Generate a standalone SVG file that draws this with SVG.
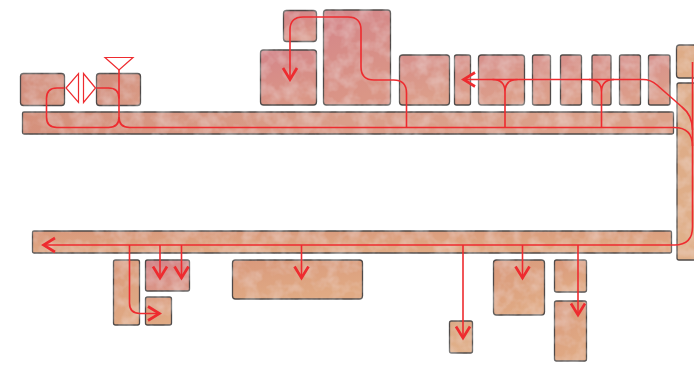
<svg xmlns="http://www.w3.org/2000/svg" width="694" height="365" viewBox="0 0 694 365">
<style>
.n{stroke:#4f4a48;stroke-width:1.3}
.pink{fill:url(#gPink)}
.rose{fill:url(#gRose)}
.salmon{fill:url(#gSalmon)}
.bar{fill:url(#gBar)}
.tan{fill:url(#gTan)}
.orange{fill:url(#gOrange)}
.c{fill:none;stroke:#ee2b2f;stroke-width:1.6}
.a{marker-end:url(#arr)}
.tri{fill:#fff;stroke:#ee2b2f;stroke-width:1.2}
</style>
<defs>
<linearGradient id="gPink" x1="0" y1="0" x2="0.3" y2="1"><stop offset="0" stop-color="#d4858a"/><stop offset="1" stop-color="#da9686"/></linearGradient>
<linearGradient id="gRose" x1="0" y1="0" x2="0.3" y2="1"><stop offset="0" stop-color="#d78f8b"/><stop offset="1" stop-color="#dc9f8a"/></linearGradient>
<linearGradient id="gSalmon" x1="0" y1="0" x2="1" y2="1"><stop offset="0" stop-color="#d28c7c"/><stop offset="1" stop-color="#d99c86"/></linearGradient>
<linearGradient id="gBar" x1="0" y1="0" x2="1" y2="0"><stop offset="0" stop-color="#d5917c"/><stop offset="0.5" stop-color="#da9e8a"/><stop offset="1" stop-color="#dca189"/></linearGradient>
<linearGradient id="gTan" x1="0" y1="0" x2="0" y2="1"><stop offset="0" stop-color="#ddaa86"/><stop offset="1" stop-color="#e0b08a"/></linearGradient>
<linearGradient id="gOrange" x1="0" y1="0" x2="0.4" y2="1"><stop offset="0" stop-color="#d9997c"/><stop offset="1" stop-color="#e0aa84"/></linearGradient>
<filter id="tex" filterUnits="userSpaceOnUse" x="0" y="0" width="694" height="365">
<feTurbulence type="fractalNoise" baseFrequency="0.07" numOctaves="3" seed="7" result="t"/>
<feColorMatrix in="t" type="matrix" values="0 0 0 0 1  0 0 0 0 1  0 0 0 0 1  0.5 0 0 0 -0.2" result="w"/>
<feComposite in="w" in2="SourceGraphic" operator="atop"/>
</filter>
<marker id="arr" markerUnits="userSpaceOnUse" markerWidth="16" markerHeight="18" viewBox="0 0 16 18" refX="14" refY="9" orient="auto">
<path d="M2,2 L13.5,9 L2,16" fill="none" stroke="#ee2b2f" stroke-width="2.7"/>
</marker>
</defs>

<g id="nodes" filter="url(#tex)">
<g id="box-a"><rect class="n salmon" x="20.5" y="73.5" width="44" height="32" rx="3"/></g>
<g id="box-b"><rect class="n salmon" x="96.5" y="73.5" width="44" height="32" rx="3"/></g>
<g id="top-bar"><rect class="n bar" x="22.5" y="112" width="651" height="22" rx="1.5"/></g>
<g id="box-t1"><rect class="n pink" x="283.5" y="10.5" width="33" height="31" rx="3"/></g>
<g id="box-t2"><rect class="n pink" x="260.5" y="50" width="56" height="55" rx="3"/></g>
<g id="box-t3"><rect class="n pink" x="323.5" y="10" width="67" height="95" rx="3"/></g>
<g id="box-t4"><rect class="n rose" x="399.5" y="55" width="50" height="50" rx="3"/></g>
<g id="box-t5"><rect class="n rose" x="454.5" y="55" width="16" height="50" rx="2"/></g>
<g id="box-t6"><rect class="n rose" x="478.5" y="55" width="46" height="50" rx="3"/></g>
<g id="box-t7"><rect class="n rose" x="532.5" y="55" width="18" height="50" rx="2"/></g>
<g id="box-t8"><rect class="n rose" x="560.5" y="55" width="21" height="50" rx="2"/></g>
<g id="box-t9"><rect class="n rose" x="592" y="55" width="19" height="50" rx="2"/></g>
<g id="box-t10"><rect class="n rose" x="619.5" y="55" width="21" height="50" rx="2"/></g>
<g id="box-t11"><rect class="n rose" x="648.5" y="55" width="21.5" height="50" rx="2"/></g>
<g id="box-r1"><rect class="n tan" x="676.5" y="45" width="30" height="33" rx="3"/></g>
<g id="box-r2"><rect class="n tan" x="677" y="83" width="30" height="177" rx="2"/></g>
<g id="bottom-bar"><rect class="n orange" x="32.5" y="231" width="639" height="22" rx="1.5"/></g>
<g id="box-b1"><rect class="n orange" x="113.5" y="260" width="26" height="65" rx="2"/></g>
<g id="box-b2"><rect class="n pink" x="145.5" y="260" width="44" height="31" rx="2"/></g>
<g id="box-b3"><rect class="n orange" x="145.5" y="297" width="26" height="28" rx="2"/></g>
<g id="box-b4"><rect class="n orange" x="232.5" y="260" width="130" height="39" rx="3"/></g>
<g id="box-b5"><rect class="n tan" x="449.5" y="321" width="23" height="32" rx="2"/></g>
<g id="box-b6"><rect class="n orange" x="493.5" y="260" width="51" height="55" rx="3"/></g>
<g id="box-b7"><rect class="n orange" x="554.5" y="260" width="32" height="32" rx="2"/></g>
<g id="box-b8"><rect class="n orange" x="554.5" y="301" width="32" height="60" rx="2"/></g>
</g>
<g id="markers-tri">
<g id="tri-left"><polygon class="tri" points="66,88 78.5,73.5 78.5,102.5"/></g>
<g id="tri-right"><polygon class="tri" points="95.5,88 83.5,73.5 83.5,102.5"/></g>
<g id="tri-down"><polygon class="tri" points="105,57.5 133,57.5 119,70"/></g>
</g>

<g id="connectors">
<path class="c" d="M119,70 V117 Q119,127.5 129.5,127.5 H674 Q692.5,127.5 692.5,146"/>
<path class="c" d="M119,117 Q119,127.5 108.5,127.5 H57 Q46.5,127.5 46.5,117 V98.5 Q46.5,88 57,88 H64.5"/>
<path class="c" d="M96.5,88 H108.5 Q119,88 119,98.5"/>
<path class="c a" d="M692.5,62 V227 Q692.5,245 674.5,245 H43"/>
<path class="c a" d="M692.5,130 C692.5,119 688.5,112 682,107 L657,85 C653,81.5 649,79.5 643,79.5 H463"/>
<path class="c" d="M505,127.5 V92 Q505,79.5 492.5,79.5 M505,92 Q505,79.5 517.5,79.5"/>
<path class="c" d="M601.5,127.5 V92 Q601.5,79.5 589,79.5 M601.5,92 Q601.5,79.5 614,79.5"/>
<path class="c a" d="M406.5,127.5 V93 Q406.5,80 393.5,80 H374 Q361,80 361,67 V30 Q361,17 348,17 H303 Q290,17 290,30 V80"/>
<path class="c a" d="M129.5,245 V303 Q129.5,313.5 140,313.5 H160"/>
<path class="c a" d="M160,245 V278.5"/>
<path class="c a" d="M181.5,245 V278.5"/>
<path class="c a" d="M301.5,245 V278.5"/>
<path class="c a" d="M463,245 V338.5"/>
<path class="c a" d="M522.5,245 V278.5"/>
<path class="c a" d="M578,245 V315.5"/>
</g>
</svg>
